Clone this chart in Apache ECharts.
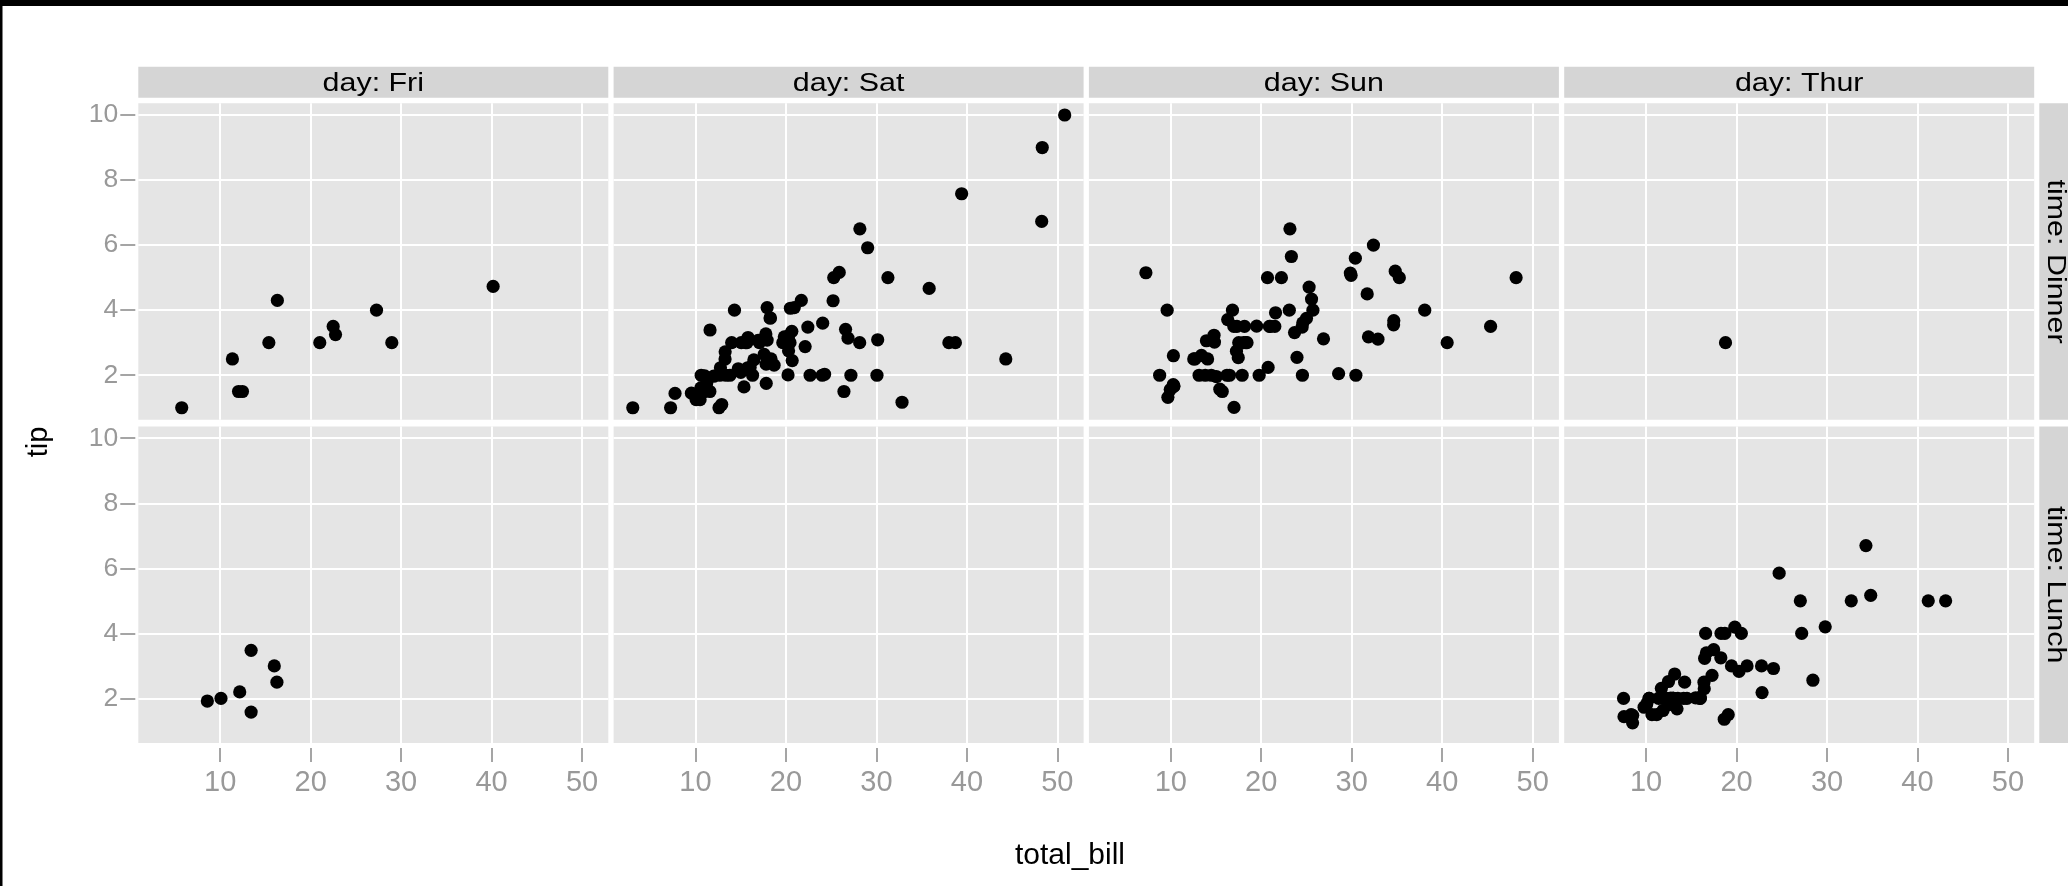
<!DOCTYPE html>
<html>
<head>
<meta charset="utf-8">
<script src="https://cdn.jsdelivr.net/npm/echarts@6/dist/echarts.min.js"></script>
<style>
  html, body { margin: 0; padding: 0; background: #fff; }
  #chart { width: 2068px; height: 886px; }
</style>
</head>
<body>
<div id="chart"></div>
<script>
// Facet levels and tick values
const days = ['Fri', 'Sat', 'Sun', 'Thur'];
const times = ['Dinner', 'Lunch'];
const xTicks = [10, 20, 30, 40, 50];
const yTicks = [2, 4, 6, 8, 10];

// [total_bill, tip] pairs, one array per day/time facet
const friDinner = [[28.97,3.0],[22.49,3.5],[5.75,1.0],[16.32,4.3],[22.75,3.25],[40.17,4.73],[27.28,4.0],[12.03,1.5],[21.01,3.0],[12.46,1.5],[11.35,2.5],[15.38,3.0]];
const friLunch = [[12.16,2.2],[13.42,3.48],[8.58,1.92],[15.98,3.0],[13.42,1.58],[16.27,2.5],[10.09,2.0]];
const satDinner = [[20.65,3.35],[17.92,4.08],[20.29,2.75],[15.77,2.23],[39.42,7.58],[19.82,3.18],[17.81,2.34],[13.37,2.0],[12.69,2.0],[21.7,4.3],[19.65,3.0],[9.55,1.45],[18.35,2.5],[15.06,3.0],[20.69,2.45],[17.78,3.27],[24.06,3.6],[16.31,2.0],[16.93,3.07],[18.69,2.31],[31.27,5.0],[16.04,2.24],[38.01,3.0],[26.41,1.5],[11.24,1.76],[48.27,6.73],[20.29,3.21],[13.81,2.0],[11.02,1.98],[18.29,3.76],[17.59,2.64],[20.08,3.15],[16.45,2.47],[3.07,1.0],[20.23,2.01],[15.01,2.09],[12.02,1.97],[17.07,3.0],[26.86,3.14],[25.28,5.0],[14.73,2.2],[10.51,1.25],[17.92,3.08],[44.3,2.5],[22.42,3.48],[20.92,4.08],[15.36,1.64],[20.49,4.06],[25.21,4.29],[18.24,3.76],[14.31,4.0],[14.0,3.0],[7.25,1.0],[10.59,1.61],[10.63,2.0],[50.81,10.0],[15.81,3.16],[26.59,3.41],[38.73,3.0],[24.27,2.03],[12.76,2.23],[30.06,2.0],[25.89,5.16],[48.33,9.0],[13.27,2.5],[28.17,6.5],[12.9,1.1],[28.15,3.0],[11.59,1.5],[7.74,1.44],[30.14,3.09],[20.45,3.0],[13.28,2.72],[22.12,2.88],[24.01,2.0],[15.69,3.0],[11.61,3.39],[10.77,1.47],[15.53,3.0],[10.07,1.25],[12.6,1.0],[32.83,1.17],[35.83,4.67],[29.03,5.92],[27.18,2.0],[22.67,2.0],[17.82,1.75]];
const satLunch = [];
const sunDinner = [[16.99,1.01],[10.34,1.66],[21.01,3.5],[23.68,3.31],[24.59,3.61],[25.29,4.71],[8.77,2.0],[26.88,3.12],[15.04,1.96],[14.78,3.23],[10.27,1.71],[35.26,5.0],[15.42,1.57],[18.43,3.0],[14.83,3.02],[21.58,3.92],[10.33,1.67],[16.29,3.71],[16.97,3.5],[17.46,2.54],[13.94,3.06],[9.68,1.32],[30.4,5.6],[18.29,3.0],[22.23,5.0],[32.4,6.0],[28.55,2.05],[18.04,3.0],[12.54,2.5],[10.29,2.6],[34.81,5.2],[9.94,1.56],[25.56,4.34],[19.49,3.51],[38.07,4.0],[23.95,2.55],[25.71,4.0],[17.31,3.5],[29.93,5.07],[14.07,2.5],[13.13,2.0],[17.26,2.74],[24.55,2.0],[19.77,2.0],[29.85,5.14],[48.17,5.0],[25.0,3.75],[13.39,2.61],[16.49,2.0],[21.5,3.5],[12.66,2.5],[16.21,2.0],[13.81,2.0],[17.51,3.0],[24.52,3.48],[20.76,2.24],[31.71,4.5],[7.25,5.15],[31.85,3.18],[16.82,4.0],[32.9,3.11],[17.89,2.0],[14.48,2.0],[9.6,4.0],[34.63,3.55],[34.65,3.68],[23.33,5.65],[45.35,3.5],[23.17,6.5],[40.55,3.0],[20.69,5.0],[20.9,3.5],[30.46,2.0],[18.15,3.5],[23.1,4.0],[15.69,1.5]];
const sunLunch = [];
const thurDinner = [[18.78,3.0]];
const thurLunch = [[27.2,4.0],[22.76,3.0],[17.29,2.71],[19.44,3.0],[16.66,3.4],[10.07,1.83],[32.68,5.0],[15.98,2.03],[34.83,5.17],[13.03,2.0],[18.28,4.0],[24.71,5.85],[21.16,3.0],[10.65,1.5],[12.43,1.8],[24.08,2.92],[11.69,2.31],[13.42,1.68],[14.26,2.5],[15.95,2.0],[12.48,2.52],[29.8,4.2],[8.52,1.48],[14.52,2.0],[11.38,2.0],[22.82,2.18],[19.08,1.5],[20.27,2.83],[11.17,1.5],[12.26,2.0],[18.26,3.25],[8.51,1.25],[10.33,2.0],[14.15,2.0],[16.0,2.0],[13.16,2.75],[17.47,3.5],[34.3,6.7],[41.19,5.0],[27.05,5.0],[16.43,2.3],[8.35,1.5],[18.64,1.36],[11.87,1.63],[9.78,1.73],[7.51,2.0],[19.81,4.19],[28.44,2.56],[15.48,2.02],[16.58,4.0],[7.56,1.44],[10.34,2.0],[43.11,5.0],[13.0,2.0],[13.51,2.0],[18.71,4.0],[12.74,2.01],[13.0,2.0],[16.4,2.5],[20.53,4.0],[16.47,3.23]];

const facetData = {
  Fri: { Dinner: friDinner, Lunch: friLunch },
  Sat: { Dinner: satDinner, Lunch: satLunch },
  Sun: { Dinner: sunDinner, Lunch: sunLunch },
  Thur: { Dinner: thurDinner, Lunch: thurLunch }
};

// Layout of the facet grid
const FONT = '"Liberation Sans", Arial, Helvetica, sans-serif';
const colLeft = [138.3, 613.6, 1088.9, 1564.2];
const panelW = 470;
const rowTop = [103.3, 426.5];
const panelH = 316.5;
const X_RANGE = [0.95, 52.9];
const Y_RANGE = [0.63, 10.36];

const grids = [], xAxes = [], yAxes = [], series = [];
let idx = 0;
times.forEach((time, r) => {
  days.forEach((day, c) => {
    grids.push({
      left: colLeft[c], top: rowTop[r], width: panelW, height: panelH,
      show: true, backgroundColor: '#E5E5E5', borderWidth: 0, containLabel: false
    });
    const bottomRow = r === times.length - 1;
    const firstCol = c === 0;
    xAxes.push({
      type: 'value', gridIndex: idx, min: X_RANGE[0], max: X_RANGE[1],
      offset: 5,
      axisLine: { show: false },
      axisTick: { show: bottomRow, length: 14, customValues: xTicks, lineStyle: { color: '#8f8f8f', width: 1.6 } },
      axisLabel: { show: bottomRow, customValues: xTicks, margin: 20, color: '#999999', fontSize: 29, fontFamily: FONT },
      splitLine: { show: true, lineStyle: { color: '#ffffff', width: 2 } }
    });
    yAxes.push({
      type: 'value', gridIndex: idx, min: Y_RANGE[0], max: Y_RANGE[1],
      offset: 3,
      axisLine: { show: false },
      axisTick: { show: firstCol, length: 15, customValues: yTicks, lineStyle: { color: '#8f8f8f', width: 1.6 } },
      axisLabel: { show: firstCol, customValues: yTicks, margin: 17, color: '#999999', fontSize: 26.5, fontFamily: FONT },
      splitLine: { show: true, lineStyle: { color: '#ffffff', width: 2 } }
    });
    series.push({
      type: 'scatter', xAxisIndex: idx, yAxisIndex: idx,
      name: 'day: ' + day + ' / time: ' + time,
      data: facetData[day][time],
      symbol: 'circle', symbolSize: 13.2,
      itemStyle: { color: '#000000', opacity: 1 },
      silent: true
    });
    idx++;
  });
});

// Strip labels, axis titles and the frame
const graphics = [];
const STRIP_FILL = '#D5D5D5';
days.forEach((day, c) => {
  graphics.push({ type: 'rect', shape: { x: colLeft[c], y: 66.7, width: panelW, height: 31 }, style: { fill: STRIP_FILL }, silent: true });
  graphics.push({
    type: 'text', x: colLeft[c] + panelW / 2, y: 83.5, scaleX: 1.17, scaleY: 1,
    style: { text: 'day: ' + day, fill: '#000', font: '26px ' + FONT, align: 'center', verticalAlign: 'middle', textAlign: 'center', textVerticalAlign: 'middle' },
    silent: true
  });
});
times.forEach((time, r) => {
  graphics.push({ type: 'rect', shape: { x: 2039.3, y: rowTop[r], width: 31, height: panelH }, style: { fill: STRIP_FILL }, silent: true });
  graphics.push({
    type: 'text', x: 2055, y: rowTop[r] + panelH / 2, rotation: -Math.PI / 2, scaleX: 1.17, scaleY: 1,
    style: { text: 'time: ' + time, fill: '#000', font: '26px ' + FONT, align: 'center', verticalAlign: 'middle', textAlign: 'center', textVerticalAlign: 'middle' },
    silent: true
  });
});
graphics.push({
  type: 'text', x: 1070, y: 856, style: { text: 'total_bill', fill: '#000', font: '30px ' + FONT, align: 'center', verticalAlign: 'middle', textAlign: 'center', textVerticalAlign: 'middle' }, silent: true
});
graphics.push({
  type: 'text', x: 39, y: 442, rotation: Math.PI / 2,
  style: { text: 'tip', fill: '#000', font: '29px ' + FONT, align: 'center', verticalAlign: 'middle', textAlign: 'center', textVerticalAlign: 'middle' }, silent: true
});
graphics.push({ type: 'rect', shape: { x: 0, y: 0, width: 2068, height: 6 }, style: { fill: '#000' }, silent: true });
graphics.push({ type: 'rect', shape: { x: 0, y: 0, width: 2.5, height: 886 }, style: { fill: '#000' }, silent: true });

const chart = echarts.init(document.getElementById('chart'));
chart.setOption({
  animation: false,
  backgroundColor: '#ffffff',
  grid: grids,
  xAxis: xAxes,
  yAxis: yAxes,
  series: series,
  graphic: { elements: graphics }
});
</script>
</body>
</html>
